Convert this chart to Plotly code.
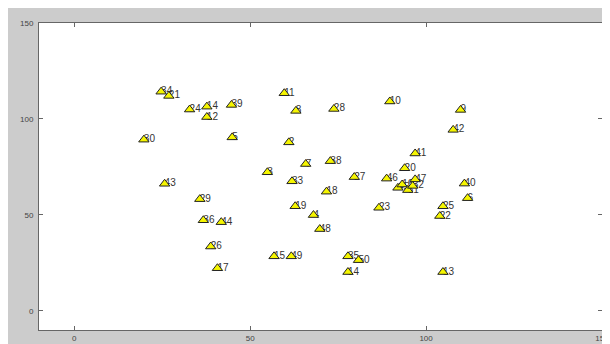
import plotly.graph_objects as go

xs = [24.7, 26.9, 32.8, 37.7, 37.7, 44.7, 19.8, 44.9, 59.7, 63.0,
      61.0, 65.8, 54.9, 73.8, 89.7, 109.8, 107.7, 96.9, 72.8, 93.9,
      61.9, 79.6, 88.8, 96.9, 92.0, 93.2, 94.8, 96.2, 71.7, 62.8,
      68.0, 69.8, 86.6, 104.8, 103.9, 110.9, 111.8, 25.7, 35.7, 36.7,
      41.8, 38.8, 40.7, 56.8, 61.7, 77.8, 80.8, 77.8, 104.8]
ys = [114.2, 112.0, 104.9, 106.4, 101.0, 107.3, 89.2, 90.4, 113.4, 104.2,
      87.8, 76.5, 72.2, 105.2, 109.1, 104.7, 94.3, 82.0, 78.0, 74.3,
      67.5, 69.7, 68.9, 68.5, 64.1, 65.8, 62.9, 65.1, 62.1, 54.5,
      49.9, 42.6, 53.7, 54.5, 49.4, 66.3, 58.7, 66.2, 58.2, 47.2,
      46.2, 33.5, 22.2, 28.4, 28.4, 28.4, 26.4, 20.2, 20.2]
labels = ["34", "21", "24", "14", "12", "39", "30", "5", "11", "8",
          "2", "7", "3", "28", "10", "9", "42", "41", "38", "20",
          "33", "27", "46", "47", "45", "16", "31", "32", "18", "19",
          "4", "48", "23", "25", "22", "40", "6", "43", "29", "36",
          "44", "26", "17", "15", "49", "35", "50", "14", "13"]

x_ticks = [0, 50, 100, 150]
y_ticks = [0, 50, 100, 150]

fig = go.Figure()

# labels first, so the markers are drawn on top of them
fig.add_trace(go.Scatter(
    x=xs, y=ys, mode="text", text=labels, textposition="middle right",
    marker=dict(size=1),
    textfont=dict(family="Liberation Sans, Arial", size=10, color="#333333"),
    hoverinfo="skip", showlegend=False,
))

fig.add_trace(go.Scatter(
    x=xs, y=ys, mode="markers",
    marker=dict(symbol="triangle-up", size=9, color="#f5f500",
                line=dict(color="#222222", width=1)),
    hoverinfo="skip", showlegend=False,
))

axis_common = dict(
    showgrid=False, zeroline=False, showline=True, linecolor="#666666",
    linewidth=1, mirror="ticks", ticks="inside", ticklen=4, tickcolor="#666666",
    tickfont=dict(family="Liberation Sans, Arial", size=8, color="#444444"),
)

fig.update_layout(
    width=610, height=344,
    margin=dict(l=31, r=9, t=15, b=15),
    paper_bgcolor="#cccccc", plot_bgcolor="#ffffff",
    xaxis=dict(range=[-10, 150], tickvals=x_ticks, ticklabelstandoff=0, **axis_common),
    yaxis=dict(range=[-10, 150], tickvals=y_ticks, ticklabelstandoff=3, **axis_common),
    showlegend=False,
)

fig.write_html("out.html")
